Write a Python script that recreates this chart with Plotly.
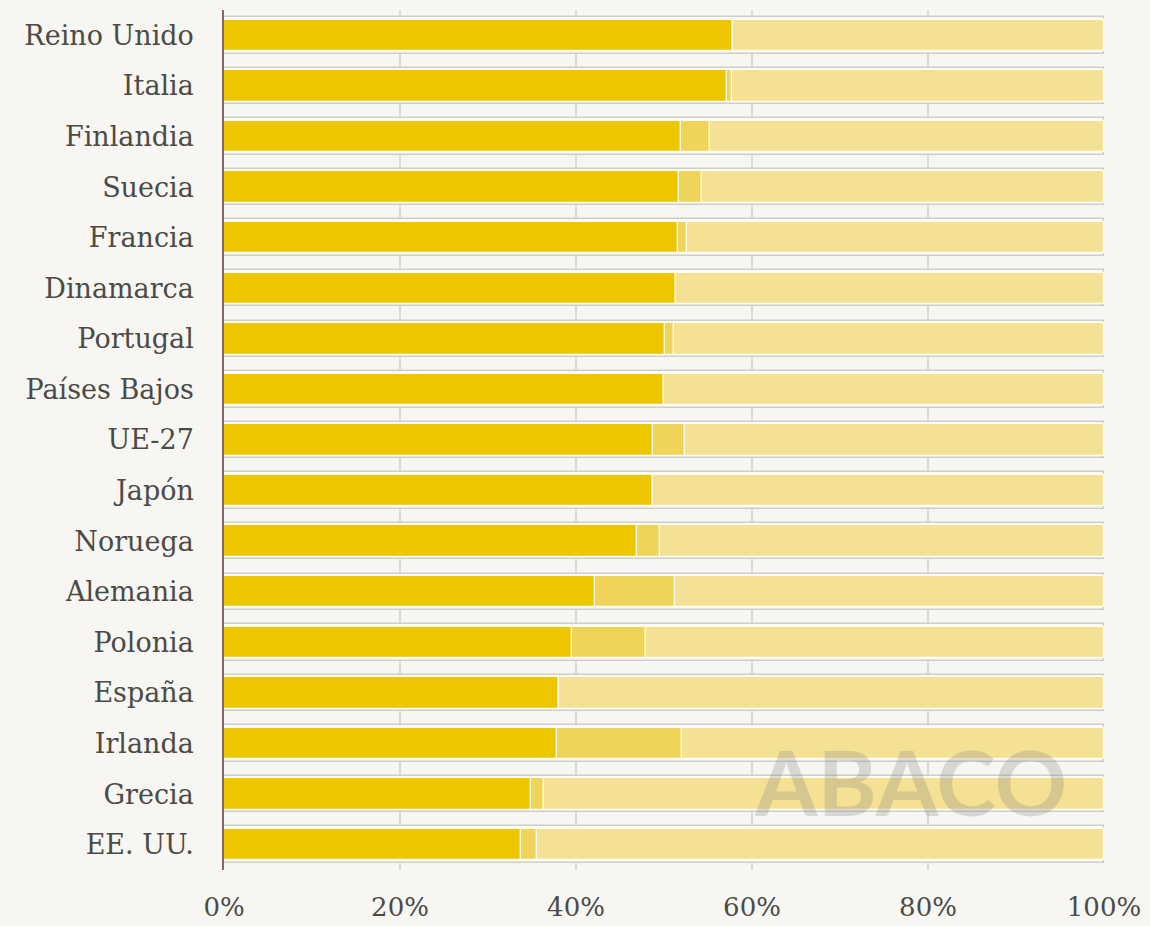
import plotly.graph_objects as go

paises = ["Reino Unido", "Italia", "Finlandia", "Suecia", "Francia", "Dinamarca",
          "Portugal", "Países Bajos", "UE-27", "Japón", "Noruega", "Alemania",
          "Polonia", "España", "Irlanda", "Grecia", "EE. UU."]
serie_1 = [57.8, 57.2, 51.9, 51.7, 51.6, 51.4, 50.1, 50.0, 48.8, 48.8, 46.9, 42.2,
           39.5, 38.1, 37.8, 34.9, 33.8]
serie_2 = [0.0, 0.5, 3.3, 2.6, 1.0, 0.0, 1.0, 0.0, 3.6, 0.0, 2.6, 9.1,
           8.5, 0.0, 14.3, 1.5, 1.8]
serie_3 = [round(100 - a - b, 1) for a, b in zip(serie_1, serie_2)]
total = [100] * len(paises)
tick_vals = [0, 20, 40, 60, 80, 100]
tick_text = ["0%", "20%", "40%", "60%", "80%", "100%"]

BG = "#f7f6f3"
C1, C2, C3 = "#edc600", "#f0d359", "#f4e194"

base2 = serie_1
base3 = [a + b for a, b in zip(serie_1, serie_2)]

fig = go.Figure()
fig.add_trace(go.Bar(y=paises, x=total, base=0, orientation="h", width=0.72,
                     marker=dict(color="#fbfaf7", line=dict(color="#cfcdc8", width=1.5)),
                     hoverinfo="skip", showlegend=False))
fig.add_trace(go.Bar(y=paises, x=serie_1, base=0, orientation="h", width=0.62,
                     marker=dict(color=C1, line=dict(color="#fffdf0", width=1.2)), showlegend=False))
fig.add_trace(go.Bar(y=paises, x=serie_2, base=base2, orientation="h", width=0.62,
                     marker=dict(color=C2, line=dict(color="#fffdf0", width=1.2)), showlegend=False))
fig.add_trace(go.Bar(y=paises, x=serie_3, base=base3, orientation="h", width=0.62,
                     marker=dict(color=C3, line=dict(color="#fffdf0", width=1.2)), showlegend=False))

fig.add_annotation(text="ABACO", xref="paper", yref="paper", x=0.78, y=0.103,
                   xanchor="center", yanchor="middle", showarrow=False,
                   font=dict(family="Lato", size=90, weight=700, color="rgba(128,128,128,0.26)"))

fig.update_layout(
    width=1150, height=926, barmode="overlay", bargap=0,
    paper_bgcolor=BG, plot_bgcolor=BG,
    margin=dict(l=224, r=46, t=10, b=56),
    font=dict(family="DejaVu Serif", size=27, color="#4b4b46"),
    xaxis=dict(range=[0, 100], tickvals=tick_vals, ticktext=tick_text,
               showgrid=True, gridcolor="#dcdad5", gridwidth=1.5, zeroline=False,
               showline=False, ticks="", tickfont=dict(size=26), ticklabelstandoff=19,
               automargin=False),
    yaxis=dict(autorange="reversed", showline=True, linecolor="#8a6666", linewidth=1.5,
               ticks="", ticklabelstandoff=23, showgrid=False, tickfont=dict(size=27),
               automargin=False),
)
fig.write_html("out.html", config={"displayModeBar": False},
               post_script="document.body.style.margin='0';document.body.style.background='#f7f6f3';")
